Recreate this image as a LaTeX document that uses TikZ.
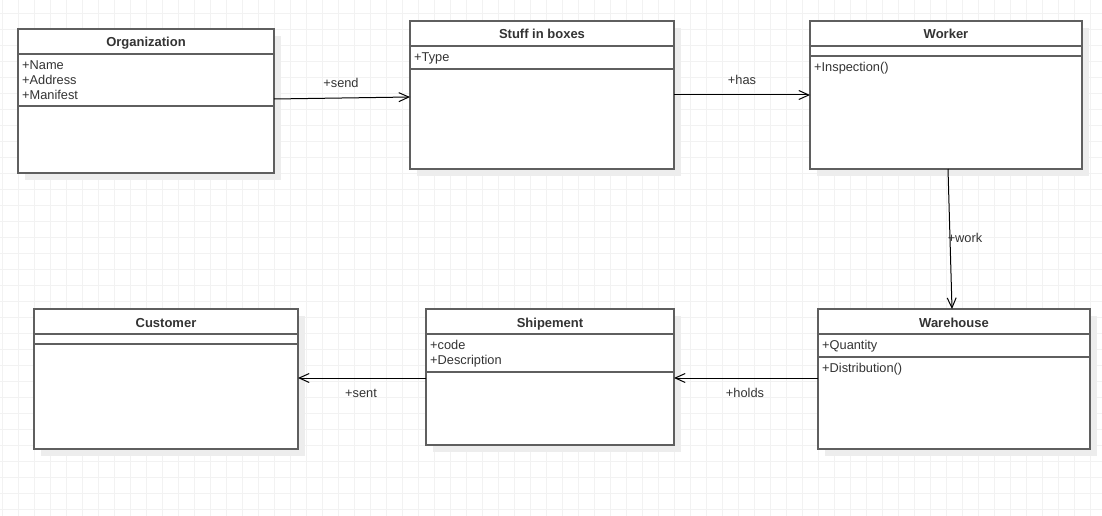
\documentclass[tikz,border=0pt]{standalone}
\usepackage{fontspec}
\setmainfont{Liberation Sans}
\usetikzlibrary{arrows.meta,calc}

\definecolor{gridc}{HTML}{F2F2F2}
\definecolor{boxline}{HTML}{5F5F5F}
\definecolor{shadowc}{HTML}{EDEDED}
\definecolor{txt}{HTML}{333333}

\tikzset{
  gridline/.style={draw=gridc, line width=0.9pt},
  classshadow/.style={fill=shadowc, draw=none},
  classbox/.style={draw=boxline, fill=white, line width=1.4pt, rectangle,
                   inner sep=0pt, outer sep=0pt},
  boxrule/.style={draw=boxline, line width=1.4pt},
  classtitle/.style={font=\fontsize{13}{15}\selectfont\bfseries, text=txt,
                     inner sep=0pt, anchor=base},
  member/.style={font=\fontsize{12.8}{15}\selectfont, text=txt,
                 inner sep=0pt, anchor=base west},
  assoclabel/.style={font=\fontsize{12.8}{15}\selectfont, text=txt,
                     inner sep=0pt, anchor=base},
  assoc/.style={draw=black, line width=1pt,
                -{Straight Barb[length=10pt,width=9pt,line width=1pt]}},
}

% class box: name, x, y, width, height, title, first rule, second rule
\newcommand\umlclass[8]{%
  \path[classshadow] (#2+7,#3+7) rectangle ++(#4,#5);
  \node[classbox, minimum width=#4pt, minimum height=#5pt,
        anchor=north west] (#1) at (#2,#3) {};
  \draw[boxrule] ([yshift=-#7pt]#1.north west) -- ([yshift=-#7pt]#1.north east);
  \draw[boxrule] ([yshift=-#8pt]#1.north west) -- ([yshift=-#8pt]#1.north east);
  \node[classtitle] (#1-title) at ($(#1.north)+(0,18)$) {#6};
}

\begin{document}
\begin{tikzpicture}[x=1pt, y=-1pt]
  \useasboundingbox (0,0) rectangle (1102,516);
  \fill[white] (0,0) rectangle (1102,516);

  % background grid
  \foreach \gx in {2,18,...,1100} \draw[gridline] (\gx,0) -- (\gx,516);
  \foreach \gy in {13.5,29.5,...,516} \draw[gridline] (0,\gy) -- (1102,\gy);

  % classes
  \umlclass{org}{18}{29}{256}{144}{Organization}{25}{77}
  \node[member] (org-a1) at ($(org.north west)+(4,40.2)$) {+Name};
  \node[member] (org-a2) at ($(org.north west)+(4,55.2)$) {+Address};
  \node[member] (org-a3) at ($(org.north west)+(4,70.2)$) {+Manifest};

  \umlclass{stuff}{410}{21}{264}{148}{Stuff in boxes}{25}{48}
  \node[member] (stuff-a1) at ($(stuff.north west)+(4,40.2)$) {+Type};

  \umlclass{worker}{810}{21}{272}{148}{Worker}{25}{35}
  \node[member] (worker-m1) at ($(worker.north west)+(4,50.4)$) {+Inspection()};

  \umlclass{cust}{34}{309}{264}{140}{Customer}{25}{35}

  \umlclass{ship}{426}{309}{248}{136}{Shipement}{25}{63}
  \node[member] (ship-a1) at ($(ship.north west)+(4,40.2)$) {+code};
  \node[member] (ship-a2) at ($(ship.north west)+(4,55.2)$) {+Description};

  \umlclass{ware}{818}{309}{272}{140}{Warehouse}{25}{48}
  \node[member] (ware-a1) at ($(ware.north west)+(4,40.2)$) {+Quantity};
  \node[member] (ware-m1) at ($(ware.north west)+(4,63.4)$) {+Distribution()};

  % associations
  \draw[assoc] ([yshift=2pt]org.east) -- ([yshift=-2pt]stuff.west);
  \draw[assoc] (stuff.east) -- (worker.west);
  \draw[assoc] ([xshift=2pt]worker.south) -- ([xshift=-2pt]ware.north);
  \draw[assoc] ([yshift=1pt]ware.west) -- ([yshift=1pt]ware.west -| ship.east);
  \draw[assoc] ([yshift=-1pt]ship.west) -- ([yshift=-1pt]ship.west -| cust.east);

  % association labels
  \node[assoclabel] (l-send)  at (341,88)    {+send};
  \node[assoclabel] (l-has)   at (742,85)    {+has};
  \node[assoclabel] (l-work)  at (965,242.5) {+work};
  \node[assoclabel] (l-holds) at (745,397.5) {+holds};
  \node[assoclabel] (l-sent)  at (361,397.5) {+sent};
\end{tikzpicture}
\end{document}
